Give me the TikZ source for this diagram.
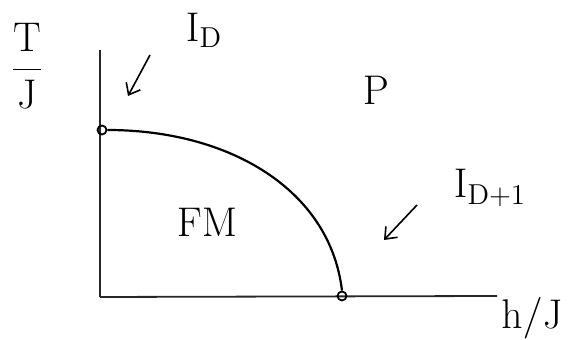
\documentclass[tikz,border=0pt]{standalone}
\usepackage{amsmath}
\usetikzlibrary{arrows.meta, positioning}
\tikzset{
  axis/.style={line width=0.9pt, black!85},
  phaseline/.style={line width=1.1pt, black},
  critpt/.style={circle, draw, line width=0.9pt, inner sep=0pt, minimum size=4.5pt},
  hint/.style={line width=0.8pt, -{Straight Barb[length=5pt, width=8pt]}},
  lbl/.style={font=\huge, inner sep=1pt}
}
\begin{document}
\begin{tikzpicture}[x=0.5pt, y=-0.5pt]
  \useasboundingbox (0,0) rectangle (568,340);
  % axes
  \coordinate (O) at (100,297);
  \coordinate (ytop) at (100,50);
  \coordinate (xend) at (497,296);
  \draw[axis] (O) -- (ytop);
  \draw[axis] (O) -- (xend);
  \node[lbl] (ylab) at (27,66) {$\dfrac{\mathrm{T}}{\mathrm{J}}$};
  \node[lbl] (xlab) at (532,318) {$\mathrm{h}/\mathrm{J}$};
  % phase boundary
  \node[critpt] (TD) at (102,130) {};
  \node[critpt] (QCP) at (342,296) {};
  \draw[phaseline] (TD.east) .. controls (230,130) and (330,190) .. (QCP.north);
  % phases
  \node[lbl] (FM) at (207,222) {$\mathrm{FM}$};
  \node[lbl] (P) at (376,90) {$\mathrm{P}$};
  % universality classes
  \node[lbl] (ID) at (204,30) {$\mathrm{I}_\mathrm{D}$};
  \node[lbl] (IDD) at (490,188) {$\mathrm{I}_{\mathrm{D}+1}$};
  \coordinate (aDs) at (150,55);
  \coordinate (aDe) at (128,96);
  \coordinate (aQs) at (417,205);
  \coordinate (aQe) at (384,240);
  \draw[hint] (aDs) -- (aDe);
  \draw[hint] (aQs) -- (aQe);
\end{tikzpicture}
\end{document}
